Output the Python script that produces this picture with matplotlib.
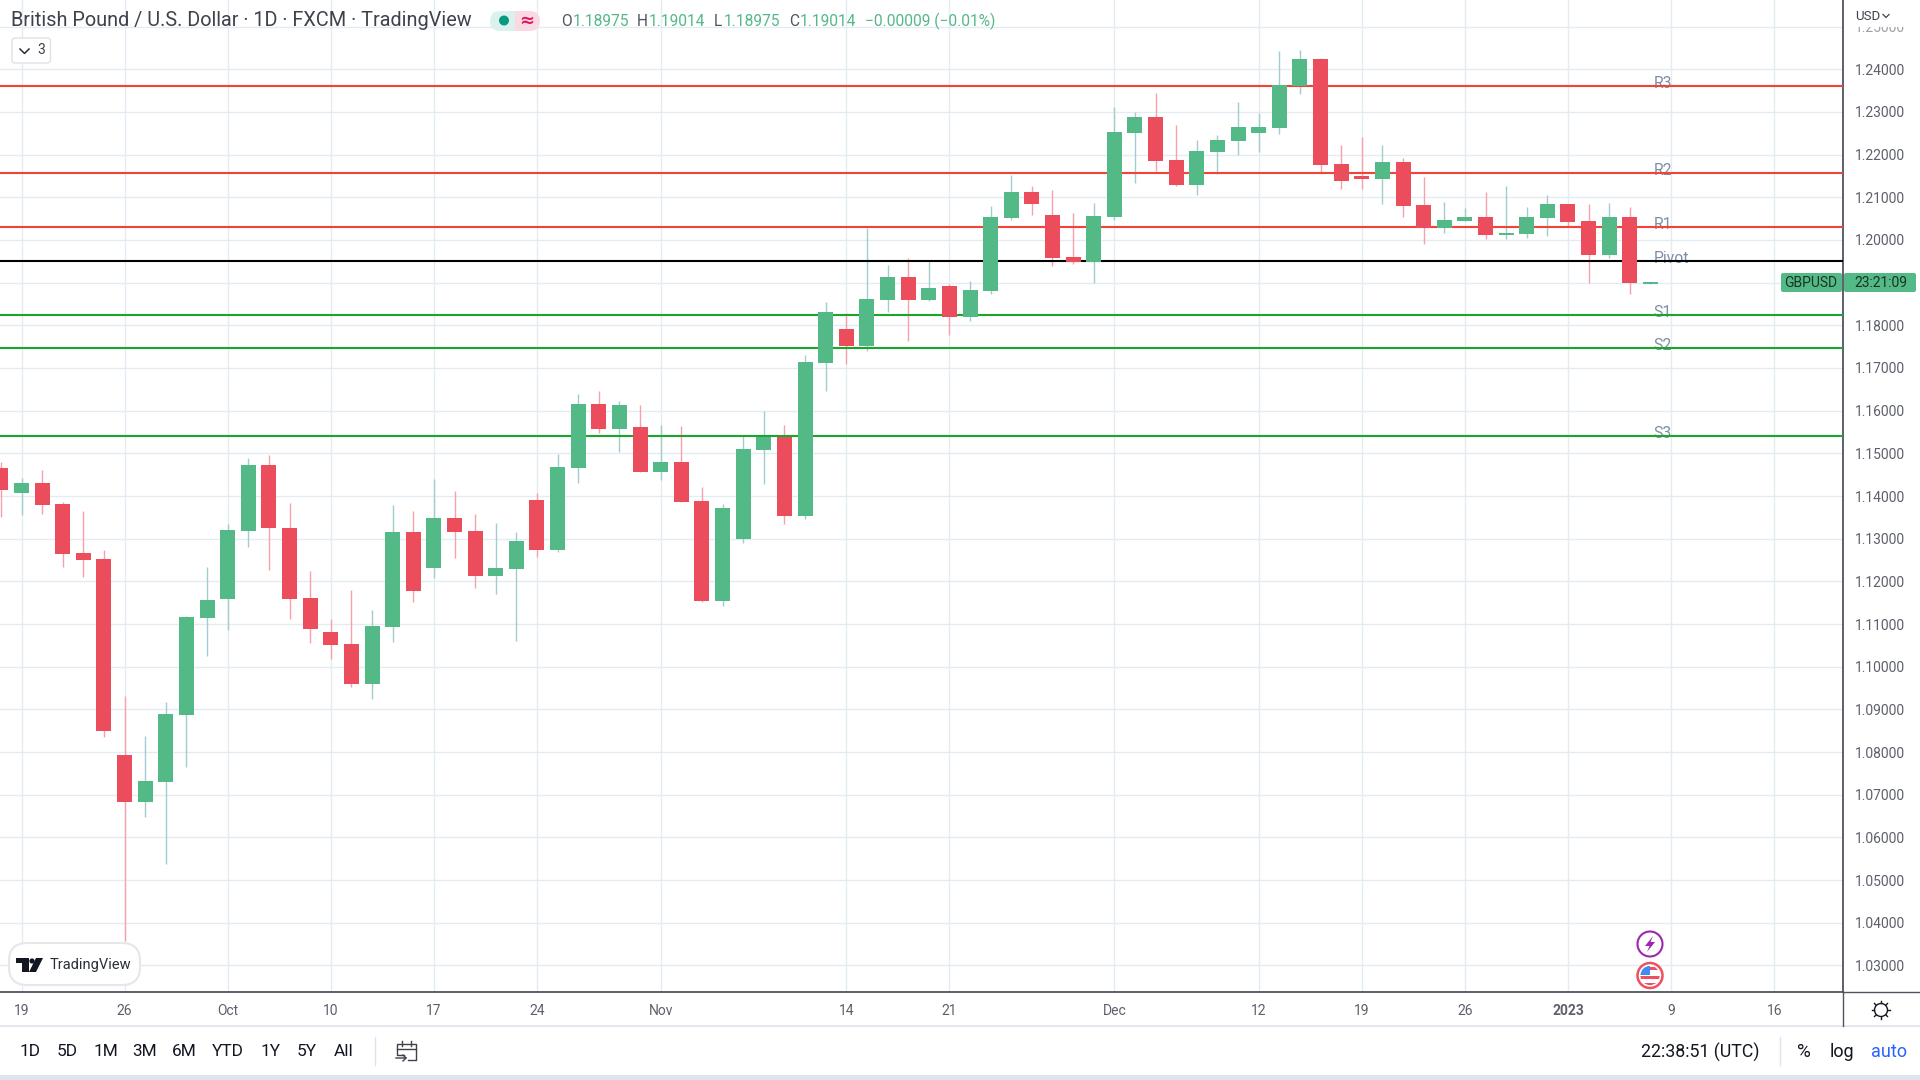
import matplotlib
matplotlib.use("Agg")
import matplotlib.pyplot as plt
from matplotlib.patches import Rectangle, FancyBboxPatch, Circle, Polygon

opens = [1.14659,1.14070,1.14304,1.13812,1.12666,1.12521,1.07929,1.06839,1.07307,1.08873,1.11149,1.11593,1.13190,1.14724,1.13247,1.11609,1.10810,1.10535,1.09599,1.10939,1.13158,1.12319,1.13481,
 1.13180,1.12133,1.12297,1.13906,1.12742,1.14664,1.16156,1.15578,1.15617,1.14570,1.14797,1.13883,1.11547,1.12997,1.15086,1.15383,1.13539,1.17125,1.17914,1.17523,1.18601,1.19133,
 1.18593,1.18921,1.18203,1.18804,1.20515,1.21124,1.20585,1.19601,1.19492,1.20539,1.22507,1.22882,1.21874,1.21288,1.22062,1.22320,1.22507,1.22624,1.23609,1.24241,1.21781,1.21499,1.21429,1.21827,1.20820,1.20281,1.20445,1.20539,1.20117,1.20140,1.20515,1.20843,1.20445,1.19648,1.20539,1.18975]
closes = [1.14151,1.14304,1.13796,1.12650,1.12504,1.08502,1.06839,1.07323,1.08889,1.11165,1.11560,1.13207,1.14724,1.13239,1.11593,1.10890,1.10519,1.09599,1.10955,1.13158,1.11762,1.13481,1.13166,
 1.12133,1.12313,1.12946,1.12742,1.14680,1.16156,1.15578,1.16133,1.14570,1.14797,1.13867,1.11547,1.13719,1.15102,1.15383,1.13539,1.17141,1.18312,1.17523,1.18617,1.19133,1.18601,
 1.18875,1.18203,1.18828,1.20539,1.21124,1.20851,1.19578,1.19492,1.20562,1.22531,1.22882,1.21851,1.21288,1.22085,1.22343,1.22648,1.22648,1.23632,1.24241,1.21757,1.21382,1.21429,1.21827,1.20796,1.20289,1.20468,1.20539,1.20117,1.20164,1.20539,1.20843,1.20421,1.19648,1.20539,1.18992,1.19014]
highs = [1.14797,1.14425,1.14611,1.13860,1.13650,1.12739,1.09317,1.08373,1.09171,1.11189,1.12335,1.13344,1.14893,1.14958,1.13836,1.12246,1.11116,1.11794,1.11326,1.13788,1.13650,1.14401,1.14119,
 1.13578,1.13367,1.13156,1.14070,1.14984,1.16391,1.16461,1.16227,1.16133,1.15664,1.15641,1.14211,1.13813,1.15406,1.15992,1.15664,1.17305,1.18547,1.18289,1.20280,1.19414,1.19570,
 1.19507,1.18968,1.19039,1.20796,1.21523,1.21265,1.21171,1.20632,1.20867,1.23116,1.22999,1.23445,1.22695,1.22343,1.22460,1.23234,1.22976,1.24429,1.24452,1.24265,1.22226,1.22413,1.22226,1.21921,1.21476,1.20890,1.20750,1.21124,1.21265,1.20773,1.21054,1.20843,1.20843,1.20867,1.20773,1.19014]
lows = [1.13513,1.13554,1.13586,1.12335,1.12101,1.08356,1.03563,1.06476,1.05378,1.07638,1.10253,1.10866,1.12803,1.12262,1.11116,1.10559,1.10180,1.09527,1.09244,1.10576,1.11520,1.12077,1.12545,
 1.11844,1.11711,1.10610,1.12578,1.12688,1.14313,1.15484,1.15039,1.14570,1.14383,1.13867,1.11516,1.11430,1.12899,1.14289,1.13344,1.13469,1.16469,1.17094,1.17406,1.18320,1.17641,
 1.18570,1.17773,1.18101,1.18734,1.20468,1.20585,1.19390,1.19437,1.18992,1.20468,1.21335,1.21617,1.21265,1.21054,1.21546,1.21992,1.22062,1.22484,1.23421,1.21570,1.21195,1.21195,1.20843,1.20539,1.19906,1.20164,1.20445,1.20023,1.20023,1.20046,1.20093,1.20304,1.18992,1.19578,1.18734,1.18975]
first_bar_index = -1

level_names = ["R3", "R2", "R1", "Pivot", "S1", "S2", "S3"]
level_values = [1.23609, 1.21577, 1.20304, 1.19515, 1.18242, 1.17469, 1.15414]
level_colors = ["#f44336", "#f44336", "#f44336", "#000000", "#1aa62a", "#1aa62a", "#1aa62a"]

price_ticks = [1.03,1.04,1.05,1.06,1.07,1.08,1.09,1.10,1.11,1.12,1.13,1.14,1.15,1.16,1.17,1.18,1.19,1.20,1.21,1.22,1.23,1.24,1.25]
price_labels = ["%.5f" % p for p in price_ticks]
date_ticks = [0,5,10,15,20,25,31,40,45,53,60,65,70,75,80,85]
date_labels = ["19","26","Oct","10","17","24","Nov","14","21","Dec","12","19","26","2023","9","16"]
ranges = ["1D","5D","1M","3M","6M","YTD","1Y","5Y","All"]

UP, DOWN = "#53b987", "#eb4d5c"
UPW, DOWNW = "#a3cdcd", "#f7a1ab"
GRID = "#e3ecf2"
AXC = "#50535e"
TXT = "#5d606b"
FONT = "Roboto"
plt.rcParams["font.family"] = FONT

W, H = 1920, 1080
fig = plt.figure(figsize=(19.2, 10.8), dpi=100, facecolor="white")
ax = fig.add_axes([0, 1 - 992 / H, 1843 / W, 992 / H])
x0, step = 21.5, 20.62
ax.set_xlim((0 - x0) / step, (1843 - x0) / step)
y_of = lambda py: 1.24 - (py - 69.3) / 4267
ax.set_ylim(y_of(992), y_of(0))
ax.set_axisbelow(True)
ax.grid(True, color=GRID, lw=1.0)
ax.yaxis.tick_right()
ax.set_yticks(price_ticks)
ax.set_yticklabels(price_labels)
ax.set_xticks(date_ticks)
ax.set_xticklabels(date_labels)
ax.tick_params(axis="y", length=0, pad=8.6, labelsize=10, labelcolor=TXT)
ax.tick_params(axis="x", length=0, pad=8.4, labelsize=10, labelcolor=TXT)
for lab in ax.get_yticklabels():
    if lab.get_text() == "1.25000":
        lab.set_alpha(0.6)
    if lab.get_text() == "1.19000":
        lab.set_visible(False)
for lab in ax.get_xticklabels():
    if lab.get_text() == "2023":
        lab.set_fontweight("bold")
for s in ["top", "left"]:
    ax.spines[s].set_visible(False)
ax.spines["right"].set_color(AXC)
ax.spines["bottom"].set_color(AXC)
ax.spines["right"].set_linewidth(1.3)
ax.spines["bottom"].set_linewidth(1.3)

idx = [first_bar_index + k for k in range(len(opens))]
for i, o, h, l, c in zip(idx, opens, highs, lows, closes):
    up = c >= o
    ax.vlines(i, l, h, color=UPW if up else DOWNW, lw=1.0, zorder=3)
for i, o, c in zip(idx, opens, closes):
    up = c >= o
    ax.bar(i, abs(c - o), bottom=min(o, c), width=15 / step, color=UP if up else DOWN, lw=0, zorder=4)

for name, v, col in zip(level_names, level_values, level_colors):
    ax.text(79.16, v + 0.00055, name, color="#7c8fa6", fontsize=11.3, va="center", ha="left", zorder=2)
    ax.axhline(v, color=col, lw=1.5, zorder=3.5)

# overlay in pixel coordinates for the application chrome
ov = fig.add_axes([0, 0, 1, 1], zorder=10)
ov.set_xlim(0, W)
ov.set_ylim(H, 0)
ov.axis("off")
ov.patch.set_alpha(0)

def T(x, y, s, size=10, color=TXT, ha="left", va="center", **kw):
    return ov.text(x, y, s, fontsize=size, color=color, ha=ha, va=va, **kw)

# header
T(11, 21, "British Pound / U.S. Dollar · 1D · FXCM · TradingView", size=14.3, color="#3f424c")
ov.add_patch(FancyBboxPatch((490, 11), 25, 20, boxstyle="round,pad=0,rounding_size=10", fc="#dcf1ee", ec="none"))
ov.add_patch(FancyBboxPatch((515, 11), 25, 20, boxstyle="round,pad=0,rounding_size=10", fc="#fbd9e3", ec="none"))
ov.add_patch(Rectangle((505, 11), 10, 20, fc="#dcf1ee", ec="none"))
ov.add_patch(Rectangle((515, 11), 10, 20, fc="#fbd9e3", ec="none"))
ov.add_patch(Circle((504, 20.5), 5, fc="#089981", ec="none"))
T(527, 20.5, "≈", size=13, color="#d81b60", ha="center", fontweight="bold", family="DejaVu Sans")
g = "#53b987"
for x, s, col in [(561, "O", "#50535e"), (573, "1.18975", g), (637, "H", "#50535e"), (649, "1.19014", g),
                  (714, "L", "#50535e"), (724, "1.18975", g), (789, "C", "#50535e"), (800, "1.19014", g),
                  (865, "−0.00009 (−0.01%)", g)]:
    T(x, 21, s, size=11.2, color=col)
ov.add_patch(FancyBboxPatch((12, 38), 38.5, 25, boxstyle="round,pad=0,rounding_size=3", fc="white", ec="#dfe1e7", lw=1))
ov.plot([20, 24.5, 29], [49, 53.5, 49], color="#2a2e39", lw=1.1)
T(37, 50.5, "3", size=10, color="#3f424c")

# top right currency
ov.add_patch(Rectangle((1845, 0), 75, 27, fc="white", ec="none"))
T(1855, 16, "USD", size=9.5, color="#3f424c")
ov.plot([1883, 1886, 1889], [14.5, 17.5, 14.5], color="#3f424c", lw=0.9)

# price tag
ov.add_patch(FancyBboxPatch((1781, 273), 61, 19, boxstyle="round,pad=0,rounding_size=2", fc=UP, ec="none"))
ov.add_patch(FancyBboxPatch((1844, 273), 72, 19, boxstyle="round,pad=0,rounding_size=2", fc=UP, ec="none"))
T(1811, 283, "GBPUSD", size=10, color="#17341f", ha="center")
T(1881, 283, "23:21:09", size=10, color="#17341f", ha="center")

# logo pill
ov.add_patch(FancyBboxPatch((9, 943), 131, 42, boxstyle="round,pad=0,rounding_size=18", fc="white", ec="#e6e7ea", lw=1.5))
ov.add_patch(Polygon([(16, 958), (29, 958), (29, 972), (22, 972), (22, 963), (16, 963)], fc="#131722", ec="none"))
ov.add_patch(Circle((32, 961), 2.6, fc="#131722", ec="none"))
ov.add_patch(Polygon([(36, 958), (43, 958), (36, 972), (29, 972)], fc="#131722", ec="none"))
T(50, 965, "TradingView", size=10.5, color="#2a2e39")

# event markers
ov.add_patch(Circle((1650, 944), 12.5, fc="white", ec="#9c27b0", lw=1.5))
ov.add_patch(Polygon([(1653, 936), (1645, 946), (1649.5, 946), (1647, 952), (1655, 942), (1650.5, 942)], fc="#9c27b0", ec="none"))
ov.add_patch(Circle((1650, 975.5), 12.5, fc="white", ec="#ef4f5f", lw=1.8))
flag_clip = Circle((1650, 975.5), 9.6, transform=ov.transData)
for (fx, fy, fw, fh, fc) in [(1650, 967, 11, 3, "#ef4f5f"), (1640, 976, 21, 3, "#ef4f5f"),
                             (1640, 982.5, 21, 3.5, "#ef4f5f"), (1640, 966, 10, 9, "#3f8cf0")]:
    rect = Rectangle((fx, fy), fw, fh, fc=fc, ec="none")
    ov.add_patch(rect)
    rect.set_clip_path(flag_clip)

# axis chrome
ov.plot([0, 1920], [1026, 1026], color="#e0e3eb", lw=1.2)
ov.plot([1843, 1843], [992, 1026], color=AXC, lw=1.0)
ov.plot([1843, 1920], [992, 992], color=AXC, lw=1.0)
ov.add_patch(Rectangle((0, 1075), 1920, 5, fc="#e0e3eb", ec="none"))
ov.add_patch(Circle((1881, 1010), 6.5, fc="white", ec="#131722", lw=1))
for dx, dy in [(0, -9), (0, 9), (-9, 0), (9, 0), (6.5, 6.5), (-6.5, 6.5), (6.5, -6.5), (-6.5, -6.5)]:
    ov.plot([1881 + dx * 0.75, 1881 + dx], [1010 + dy * 0.75, 1010 + dy], color="#131722", lw=1)

# bottom toolbar
for x, s in zip([30, 67, 106, 145, 184, 228, 271, 307, 344], ranges):
    T(x, 1051, s, size=12.4, color="#131722", ha="center")
ov.plot([375, 375], [1037, 1065], color="#e0e3eb", lw=1)
ov.plot([404, 397, 397, 416, 416, 408], [1055, 1055, 1044, 1044, 1060, 1060], color="#3f424c", lw=1)
ov.plot([397, 416], [1049, 1049], color="#3f424c", lw=1)
ov.plot([402, 402], [1041, 1046], color="#3f424c", lw=1)
ov.plot([411, 411], [1041, 1046], color="#3f424c", lw=1)
ov.plot([396, 406, 403], [1058, 1058, 1055], color="#3f424c", lw=1)
ov.plot([406, 403], [1058, 1061], color="#3f424c", lw=1)
T(1700, 1052, "22:38:51 (UTC)", size=12.8, color="#131722", ha="center")
ov.plot([1780, 1780], [1037, 1065], color="#e0e3eb", lw=1)
T(1804, 1052, "%", size=13.5, color="#131722", ha="center")
T(1842, 1052, "log", size=13, color="#131722", ha="center")
T(1889, 1052, "auto", size=13, color="#2962ff", ha="center")

fig.savefig("out.png", dpi=100, facecolor="white")
